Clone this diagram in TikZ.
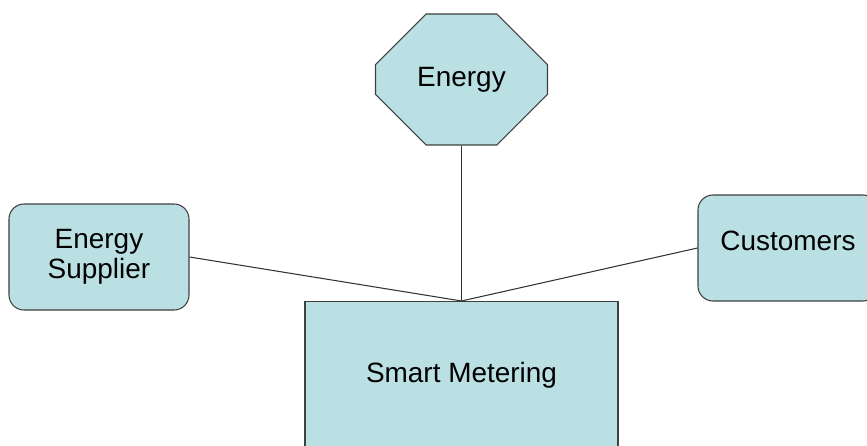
\documentclass[tikz,border=0pt]{standalone}
\usepackage{fontspec}
\setmainfont{Liberation Sans}
\usetikzlibrary{shapes.misc, shapes.geometric, positioning, calc}
\usepackage{xcolor}
\definecolor{boxfill}{RGB}{186,224,227}
\definecolor{boxline}{RGB}{64,64,64}

\begin{document}
\begin{tikzpicture}[
    part/.style={fill=boxfill, draw=boxline, line width=0.6pt, inner sep=0pt, align=center,
      font=\fontsize{15.9}{17.1}\selectfont},
    link/.style={draw=black!80, line width=0.6pt}
  ]
      \useasboundingbox (0, 0) rectangle (17.34, -8.92);

      \node[part, chamfered rectangle, chamfered rectangle xsep=0.86cm, chamfered rectangle ysep=0.76cm,
        minimum width=3.44cm, minimum height=2.62cm] (energy) at (9.23, -1.59) {Energy};
      \node[part, rounded corners=0.3cm, minimum width=3.6cm, minimum height=2.12cm] (supplier) at (1.98, -5.14) {Energy\\Supplier};
      \node[part, rounded corners=0.3cm, minimum width=3.6cm, minimum height=2.12cm, text depth=0.28cm] (customers) at (15.76, -4.96) {Customers};
      \node[part, minimum width=6.26cm, minimum height=2.94cm] (meter) at (9.23, -7.5) {Smart Metering};

      \draw[link] (energy.south) -- (meter.north);
      \draw[link] (supplier.east) -- (meter.north);
      \draw[link] (customers.west) -- (meter.north);

    \end{tikzpicture}
\end{document}
